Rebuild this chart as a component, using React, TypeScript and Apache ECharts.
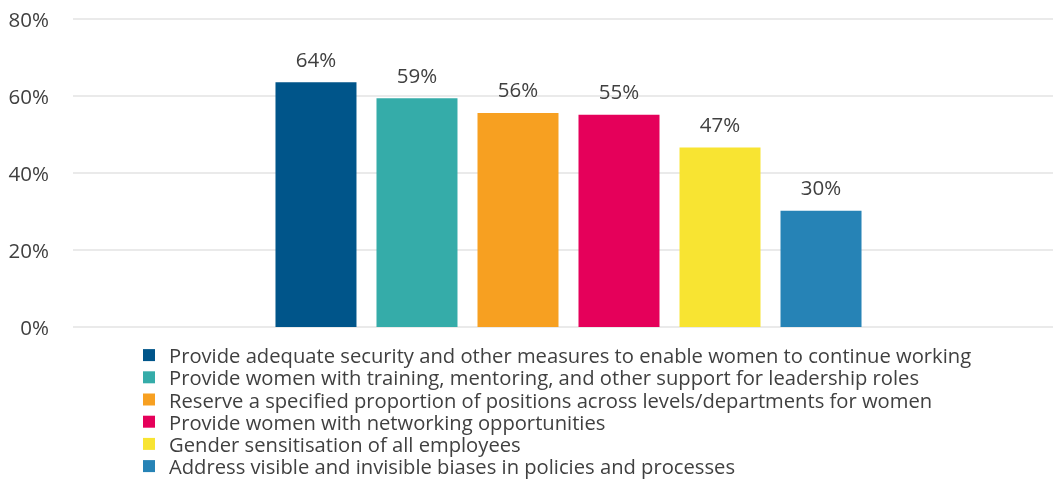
import React, { useEffect, useRef } from "react";
import * as echarts from "echarts";

const categories = [""];
const seriesNames = [
  "Provide adequate security and other measures to enable women to continue working",
  "Provide women with training, mentoring, and other support for leadership roles",
  "Reserve a specified proportion of positions across levels/departments for women",
  "Provide women with networking opportunities",
  "Gender sensitisation of all employees",
  "Address visible and invisible biases in policies and processes",
];
const seriesValues = [63.6, 59.4, 55.6, 55.1, 46.6, 30.2];
const seriesColors = ["#00558A", "#35ACA9", "#F7A021", "#E5005A", "#F8E432", "#2683B6"];
const yTicks = [0, 20, 40, 60, 80];

const FONT = "'Open Sans', 'Noto Sans', sans-serif";
const TEXT = "#404040";

export default function App() {
  const ref = useRef<HTMLDivElement>(null);
  useEffect(() => {
    if (!ref.current) return;
    const chart = echarts.init(ref.current, undefined, { renderer: "svg" });
    const yMin = yTicks[0];
    const yMax = yTicks[yTicks.length - 1];
    chart.setOption({
      animation: false,
      textStyle: { fontFamily: FONT },
      grid: [
        { left: 73, top: 19, right: 0, bottom: 155, containLabel: false },
        { left: 84, top: 19, right: 0, bottom: 155, containLabel: false },
      ],
      xAxis: [
        { type: "category", gridIndex: 0, data: categories, show: false },
        { type: "category", gridIndex: 1, data: categories, show: false },
      ],
      yAxis: [
        {
          type: "value",
          gridIndex: 0,
          min: yMin,
          max: yMax,
          interval: 20,
          axisLine: { show: false },
          axisTick: { show: false },
          axisLabel: {
            formatter: (v: number) => `${v}%`,
            color: TEXT,
            fontSize: 20.5,
            fontFamily: FONT,
            margin: 24,
          },
          splitLine: { lineStyle: { color: "#e3e3e3", width: 1.5 } },
        },
        {
          type: "value",
          gridIndex: 1,
          min: yMin,
          max: yMax,
          interval: 20,
          show: false,
          splitLine: { show: false },
        },
      ],
      legend: {
        orient: "vertical",
        left: 138,
        top: 339,
        height: 200,
        itemWidth: 12,
        itemHeight: 12,
        itemGap: 0,
        icon: "rect",
        textStyle: { color: TEXT, fontSize: 20.2, fontFamily: FONT, lineHeight: 22.2, padding: [0, 0, 0, 9] },
        data: seriesNames,
      },
      series: seriesNames.map((name, i) => ({
        name,
        type: "bar",
        xAxisIndex: 1,
        yAxisIndex: 1,
        data: [seriesValues[i]],
        barWidth: 81,
        barGap: "24.7%",
        itemStyle: { color: seriesColors[i] },
        label: {
          show: true,
          position: "top",
          distance: 13,
          color: TEXT,
          fontSize: 20.5,
          fontFamily: FONT,
          formatter: (p: any) => `${Math.round(p.value)}%`,
        },
      })),
    });
    return () => chart.dispose();
  }, []);
  return <div ref={ref} style={{ position: "fixed", left: 0, top: 0, width: 1053, height: 482 }} />;
}
